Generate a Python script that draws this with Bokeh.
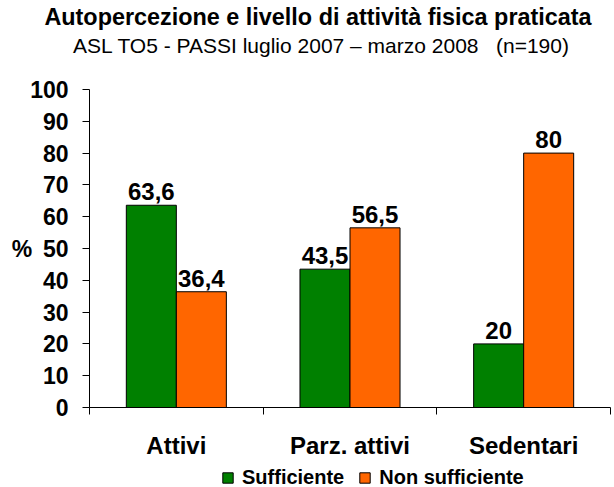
from bokeh.plotting import figure
from bokeh.layouts import column
from bokeh.models import (Range1d, FixedTicker, Legend, LegendItem,
                          ColumnDataSource, LabelSet, Div)
from bokeh.core.properties import value
from bokeh.embed import file_html
from bokeh.resources import INLINE

TITLE = "Autopercezione e livello di attività fisica praticata"
SUBTITLE = "ASL TO5 - PASSI luglio 2007 – marzo 2008   (n=190)"
categories = ["Attivi", "Parz. attivi", "Sedentari"]
series_names = ["Sufficiente", "Non sufficiente"]
sufficiente = [63.6, 43.5, 20.0]
non_sufficiente = [36.4, 56.5, 80.0]
y_ticks = [0, 10, 20, 30, 40, 50, 60, 70, 80, 90, 100]

GREEN = "#008000"
ORANGE = "#FF6600"
FONT = "Liberation Sans"

centers = [i + 0.5 for i in range(len(categories))]
bw = 0.288

def fmt(v):
    return f"{v:g}".replace(".", ",")

src_s = ColumnDataSource(dict(x=[c - bw / 2 for c in centers], top=sufficiente,
                              lab=[fmt(v) for v in sufficiente]))
src_n = ColumnDataSource(dict(x=[c + bw / 2 for c in centers], top=non_sufficiente,
                              lab=[fmt(v) for v in non_sufficiente]))

# header with title and subtitle
header = Div(
    text=(
        f'<div style="width:614px;font-family:\'{FONT}\';color:black;text-align:center;">'
        f'<div style="font-weight:bold;font-size:23.4px;line-height:24px;padding-top:5px;'
        f'position:relative;left:11px;white-space:nowrap;">{TITLE}</div>'
        f'<div style="font-size:21px;line-height:24px;margin-top:5px;'
        f'position:relative;left:14px;white-space:pre;">{SUBTITLE}</div></div>'
    ),
    width=614, height=60, margin=0)

p = figure(width=614, height=401, output_backend="svg", toolbar_location=None,
           x_range=Range1d(0, len(categories)), y_range=Range1d(0, 100),
           title=None, min_border_left=89, min_border_right=4,
           min_border_top=29, min_border_bottom=53)
p.outline_line_color = None
p.grid.grid_line_color = None
p.background_fill_color = "white"
p.border_fill_color = "white"

p.vbar(x="x", top="top", width=bw, source=src_s, fill_color=GREEN,
       line_color="black", line_width=1)
p.vbar(x="x", top="top", width=bw, source=src_n, fill_color=ORANGE,
       line_color="black", line_width=1)

for src in (src_s, src_n):
    p.add_layout(LabelSet(x="x", y="top", text="lab", source=src,
                          text_align="center", text_baseline="alphabetic",
                          y_offset=5, text_font=value(FONT),
                          text_font_style="bold", text_font_size="24px",
                          text_color="black"))

# x axis
xa = p.xaxis[0]
xa.ticker = FixedTicker(ticks=centers, minor_ticks=list(range(len(categories) + 1)))
xa.major_label_overrides = {c: cat for c, cat in zip(centers, categories)}
xa.major_tick_line_color = None
xa.major_tick_out = 0
xa.major_tick_in = 0
xa.minor_tick_out = 7
xa.minor_tick_in = 0
xa.minor_tick_line_color = "black"
xa.major_label_standoff = 17
xa.major_label_text_font = FONT
xa.major_label_text_font_style = "bold"
xa.major_label_text_font_size = "24px"
xa.major_label_text_color = "black"
xa.axis_line_color = "black"

# y axis
ya = p.yaxis[0]
ya.ticker = FixedTicker(ticks=y_ticks)
ya.minor_tick_line_color = None
ya.major_tick_out = 7
ya.major_tick_in = 0
ya.major_label_standoff = 14
ya.major_label_text_font = FONT
ya.major_label_text_font_style = "bold"
ya.major_label_text_font_size = "23px"
ya.major_label_text_color = "black"
ya.axis_label = "%"
ya.axis_label_orientation = "horizontal"
ya.axis_label_text_font = FONT
ya.axis_label_text_font_style = "bold"
ya.axis_label_text_font_size = "23px"
ya.axis_label_text_color = "black"
ya.axis_label_standoff = -5

# legend strip below the chart (its bars lie far outside its visible range)
lg = figure(width=614, height=26, output_backend="svg", toolbar_location=None,
            x_range=Range1d(0, len(categories)), y_range=Range1d(1000, 1001),
            x_axis_type=None, y_axis_type=None, min_border=0,
            min_border_left=89, min_border_right=4)
lg.outline_line_color = None
lg.grid.grid_line_color = None
g1 = lg.vbar(x="x", top="top", width=bw, source=src_s, fill_color=GREEN,
             line_color="black", line_width=1)
g2 = lg.vbar(x="x", top="top", width=bw, source=src_n, fill_color=ORANGE,
             line_color="black", line_width=1)
legend = Legend(items=[LegendItem(label=series_names[0], renderers=[g1]),
                       LegendItem(label=series_names[1], renderers=[g2])],
                orientation="horizontal", location=(132, -2),
                label_text_font=FONT, label_text_font_style="bold",
                label_text_font_size="20px", label_text_color="black",
                glyph_width=13, glyph_height=13, spacing=14, label_standoff=8,
                padding=0, margin=0, border_line_color=None,
                background_fill_alpha=0)
lg.add_layout(legend, "center")

layout = column(header, p, lg, spacing=0)
open("out.html", "w").write(file_html(layout, INLINE))
